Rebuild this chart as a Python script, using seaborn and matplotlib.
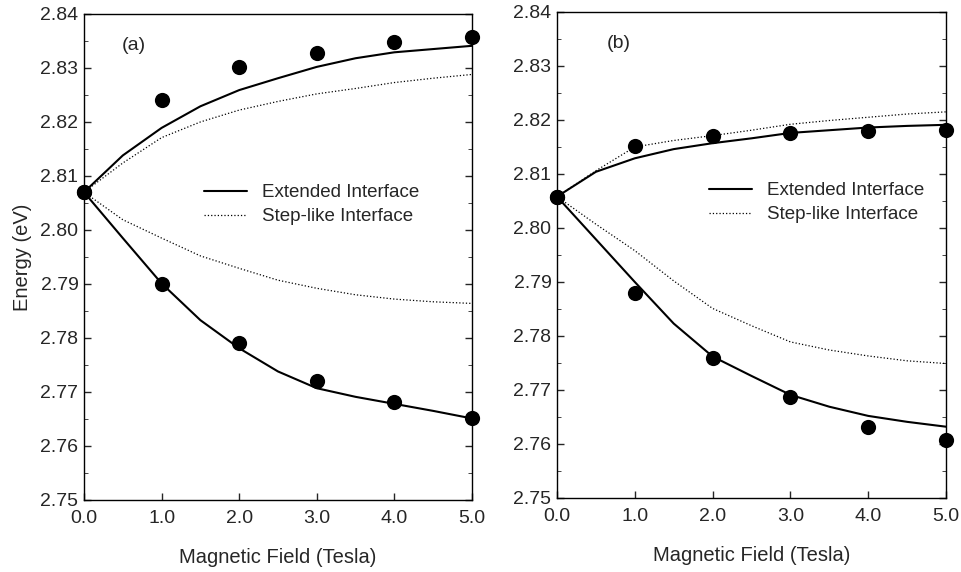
import numpy as np
import pandas as pd
import matplotlib
matplotlib.use("Agg")
import matplotlib.pyplot as plt
import seaborn as sns
from matplotlib.ticker import MultipleLocator, FormatStrFormatter

# --- data ---
field_pts = [0.0, 1.0, 2.0, 3.0, 4.0, 5.0]
field_fit = [0.0, 0.5, 1.0, 1.5, 2.0, 2.5, 3.0, 3.5, 4.0, 4.5, 5.0]

# panel (a)
a_up_pts = [2.807, 2.8241, 2.8302, 2.8327, 2.8348, 2.8357]
a_lo_pts = [2.807, 2.7900, 2.7791, 2.7720, 2.7682, 2.7652]
a_up_ext = [2.807, 2.8138, 2.8189, 2.8229, 2.8259, 2.8281, 2.8302, 2.8318, 2.8329, 2.8335, 2.8341]
a_up_step = [2.807, 2.8124, 2.8171, 2.8200, 2.8222, 2.8238, 2.8252, 2.8262, 2.8273, 2.8281, 2.8288]
a_lo_ext = [2.807, 2.7985, 2.7901, 2.7833, 2.7781, 2.7738, 2.7707, 2.7691, 2.7678, 2.7665, 2.7651]
a_lo_step = [2.807, 2.8019, 2.7985, 2.7952, 2.7929, 2.7907, 2.7892, 2.7880, 2.7872, 2.7867, 2.7864]

# panel (b)
b_up_pts = [2.8058, 2.8151, 2.8170, 2.8175, 2.8180, 2.8181]
b_lo_pts = [2.8058, 2.7879, 2.7760, 2.7687, 2.7632, 2.7607]
b_up_ext = [2.8058, 2.8104, 2.8129, 2.8146, 2.8157, 2.8166, 2.8176, 2.8181, 2.8186, 2.8189, 2.8191]
b_up_step = [2.8058, 2.8106, 2.8150, 2.8162, 2.8171, 2.8181, 2.8192, 2.8199, 2.8205, 2.8211, 2.8215]
b_lo_ext = [2.8058, 2.7979, 2.7900, 2.7823, 2.7762, 2.7726, 2.7691, 2.7669, 2.7652, 2.7641, 2.7632]
b_lo_step = [2.8058, 2.8007, 2.7958, 2.7902, 2.7851, 2.7819, 2.7789, 2.7774, 2.7763, 2.7754, 2.7749]

sns.set_style("ticks")
plt.rcParams['font.family'] = ['Liberation Sans', 'DejaVu Sans']
plt.rcParams['xtick.direction'] = 'in'
plt.rcParams['ytick.direction'] = 'in'

fig = plt.figure(figsize=(9.61, 5.72), dpi=100)
ax_a = fig.add_axes([0.0874, 0.1259, 0.4037, 0.8497])
ax_b = fig.add_axes([0.5796, 0.1294, 0.4048, 0.8497])


def draw_panel(ax, up_pts, lo_pts, up_ext, up_step, lo_ext, lo_step, tag, tag_x, leg_x):
    sns.lineplot(x=field_fit, y=up_ext, ax=ax, color='black', lw=1.5, label='Extended Interface')
    sns.lineplot(x=field_fit, y=up_step, ax=ax, color='black', lw=0.9, ls=':', label='Step-like Interface')
    sns.lineplot(x=field_fit, y=lo_ext, ax=ax, color='black', lw=1.5)
    sns.lineplot(x=field_fit, y=lo_step, ax=ax, color='black', lw=0.9, ls=':')
    sns.scatterplot(x=field_pts, y=up_pts, ax=ax, color='black', s=120, edgecolor='black',
                    linewidth=0, zorder=5, clip_on=False)
    sns.scatterplot(x=field_pts, y=lo_pts, ax=ax, color='black', s=120, edgecolor='black',
                    linewidth=0, zorder=5, clip_on=False)

    ax.set_xlim(0, 5)
    ax.set_ylim(2.75, 2.84)
    ax.xaxis.set_major_locator(MultipleLocator(1.0))
    ax.xaxis.set_major_formatter(FormatStrFormatter('%.1f'))
    ax.yaxis.set_major_locator(MultipleLocator(0.01))
    ax.yaxis.set_minor_locator(MultipleLocator(0.005))
    ax.yaxis.set_major_formatter(FormatStrFormatter('%.2f'))
    ax.tick_params(axis='both', which='major', labelsize=14, length=5, width=1)
    ax.tick_params(axis='y', which='both', right=True, pad=4)
    ax.tick_params(axis='y', which='minor', length=3)
    ax.tick_params(axis='x', pad=7)
    for sp in ax.spines.values():
        sp.set_visible(True)
        sp.set_linewidth(1.0)
        sp.set_color('black')

    ax.set_xlabel('Magnetic Field (Tesla)', fontsize=14.5, labelpad=15)
    ax.text(tag_x, 0.935, tag, transform=ax.transAxes,
            fontsize=14, va='center', ha='left')
    ax.legend(loc='upper left', bbox_to_anchor=(leg_x, 0.665), frameon=False,
              fontsize=13.5, handlelength=2.3, handletextpad=0.8, labelspacing=0.35,
              borderaxespad=0)


draw_panel(ax_a, a_up_pts, a_lo_pts, a_up_ext, a_up_step, a_lo_ext, a_lo_step, '(a)', 0.098, 0.29)
draw_panel(ax_b, b_up_pts, b_lo_pts, b_up_ext, b_up_step, b_lo_ext, b_lo_step, '(b)', 0.128, 0.372)

ax_a.set_ylabel('Energy (eV)', fontsize=14.5, labelpad=6)
ax_b.set_ylabel('')

fig.savefig('out.png', dpi=100)
